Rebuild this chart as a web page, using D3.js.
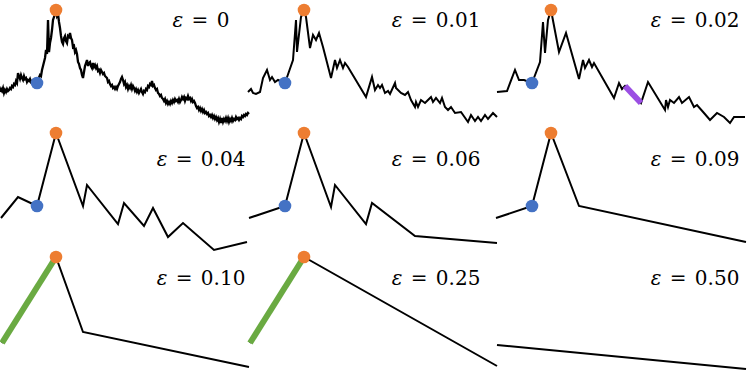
<!DOCTYPE html>
<html>
<head>
<meta charset="utf-8">
<script src="https://cdn.jsdelivr.net/npm/d3@7"></script>
<style>
  body { margin: 0; background: #fff; }
</style>
</head>
<body>
<div id="chart"></div>
<script>
// series: [t, value]
const eps0 = [
  [0,38],[1,41],[2,39],[3,42],[4,37],[5,40],[6,38],[7,41],[8,39],[9,40],[10,42],[11,41],[12,44],[13,43],[14,46],[15,45],
  [16,49],[17,47],[18,57],[19,54],[20,51],[21,55],[22,52],[23,50],[24,54],[25,51],[26,52],[27,48],[28,50],[29,49],[30,51],
  [31,48],[32,49],[33,47],[34,49],[35,47],[37,47],[38,50],[40,55],[41,54],[42,60],[43,64],[44,68],[45,72],[46,80],[47,76],
  [48,110],[48.6,92],[49,78],[50,87],[51,92],[52,100],[53,110],[54,113],[55,116],[56,120],[57,114],[58,116],[59,108],
  [60,102],[61,94],[62,88],[63,86],[64,92],[65,94],[66,89],[67,87],[68,94],[69,93],[70,97],[71,92],[72,90],[73,83],[74,84],
  [75,78],[76,80],[77,76],[78,68],[79,66],[80,62],[81,60],[82,55],[83,52],[84,58],[85,64],[86,67],[87,70],[88,64],[89,67],
  [90,68],[91,64],[92,62],[93,67],[94,63],[95,65],[96,62],[97,64],[98,59],[99,60],[100,57],[101,60],[102,58],[103,56],
  [104,57],[105,54],[106,53],[107,52],[108,48],[109,49],[110,46],[111,44],[112,45],[113,42],[114,43],[115,41],[116,43],
  [117,41],[118,44],[119,46],[120,48],[121,51],[122,53],[123,50],[124,46],[125,48],[126,43],[127,45],[128,41],[129,44],
  [130,42],[131,45],[132,41],[133,44],[134,42],[135,39],[136,41],[137,38],[138,40],[139,37],[140,39],[141,41],[142,38],
  [143,36],[144,39],[145,38],[146,41],[147,40],[148,44],[149,43],[150,46],[151,45],[152,49],[153,44],[154,45],[155,42],
  [156,40],[157,41],[158,37],[159,36],[160,34],[161,35],[162,32],[163,31],[164,29],[165,31],[166,27],[167,29],[168,26],
  [169,28],[170,26],[171,29],[172,27],[173,30],[174,28],[175,31],[176,29],[177,30],[178,28],[179,31],[180,28],[181,30],
  [182,33],[183,31],[184,33],[185,29],[186,32],[187,31],[188,34],[189,31],[190,32],[191,29],[192,31],[193,28],[194,29],
  [195,27],[196,24],[197,22],[198,23],[199,20],[200,22],[201,19],[202,21],[203,18],[204,20],[205,17],[206,18],[207,16],
  [208,17],[209,14],[210,15],[211,13],[212,15],[213,12],[214,14],[215,11],[216,13],[217,10],[218,12],[219,8],[220,11],
  [221,7],[222,12],[223,8],[224,11],[225,9],[226,12],[227,9],[228,12],[229,8],[230,11],[231,9],[232,12],[233,9],[234,11],
  [235,10],[236,13],[237,11],[238,12],[239,10],[240,12],[241,11],[242,14],[243,13],[244,15],[245,14],[246,16],[247,15],
  [248,17],[249,16]
];

const eps001 = [
  [0,38],[3,41],[5,37],[8,36],[12,38],[15,52],[19,60],[22,50],[24,53],[27,48],[30,50],[37,47],[45,70],[48,110],[49,78],
  [53,113],[56,120],[58,113],[62,82],[65,95],[68,90],[71,97],[75,83],[83,52],[87,70],[89,62],[92,70],[95,62],[97,67],
  [100,63],[118,33],[124,53],[127,40],[130,45],[132,42],[134,45],[137,37],[140,39],[142,36],[147,47],[148,42],[153,37],
  [157,35],[160,38],[163,30],[167,23],[168,28],[170,23],[173,30],[177,27],[180,30],[183,33],[185,28],[188,32],[192,27],
  [194,32],[197,23],[200,20],[203,23],[207,17],[213,18],[220,8],[223,15],[227,9],[230,13],[233,9],[237,15],[240,11],
  [245,17],[249,13]
];

const eps002 = [
  [2,38],[12,39],[20,60],[24,50],[29,50],[37,47],[45,68],[48,108],[50,77],[53,110],[56,120],[64,78],[71,97],[84,51],
  [88,70],[90,62],[94,70],[97,63],[99,67],[119,32],[124,47],[127,41],[130,44],[146,27],[153,48],[170,20],[171,30],
  [173,23],[175,30],[179,27],[184,33],[187,27],[194,33],[199,23],[202,25],[209,17],[215,10],[222,17],[229,13],[235,7],
  [239,13],[250,13]
];

const eps004 = [[1,35],[18,56],[37,47],[56,120],[83,47],[87,68],[118,29],[124,50],[144,27],[153,45],[168,16],[183,30],[214,3],[247,11]];
const eps006 = [[1,35],[37,47],[56,120],[83,46],[87,68],[118,29],[124,50],[167,17],[249,10]];
const eps009 = [[1,35],[37,47],[56,120],[84,47],[251,11]];
const eps010 = [[2,34],[56,120],[83,45],[249,10]];
const eps025 = [[2,34],[56,120],[249,11]];
const eps050 = [[2,32],[251,8]];

const epsLabels = ['0', '0.01', '0.02', '0.04', '0.06', '0.09', '0.10', '0.25', '0.50'];

const peakPoint = [56, 120];
const startPoint = [37, 47];
const purpleSeg = [[130, 44], [146, 27]];
const greenSeg = [[2, 34], [56, 120]];

const panels = [
  { pts: eps0,   blue: true,  orange: true },
  { pts: eps001, blue: true,  orange: true },
  { pts: eps002, blue: true,  orange: true, seg: purpleSeg, segColor: '#9b4fe3' },
  { pts: eps004, blue: true,  orange: true },
  { pts: eps006, blue: true,  orange: true },
  { pts: eps009, blue: true,  orange: true },
  { pts: eps010, blue: false, orange: true, seg: greenSeg, segColor: '#6aaa42' },
  { pts: eps025, blue: false, orange: true, seg: greenSeg, segColor: '#6aaa42' },
  { pts: eps050, blue: false, orange: false }
];

const W = 747, H = 372;
const colX = [0, 248, 495];
const rowY = [0, 123, 247];
const labelCx = [201, 436, 695];
const labelBase = [27, 166, 285];

const svg = d3.select('#chart').append('svg')
  .attr('width', W)
  .attr('height', H)
  .style('background', '#fff');

const x = d3.scaleLinear().domain([0, 250]).range([0, 250]);
const y = d3.scaleLinear().domain([0, 130]).range([130, 0]);

const line = d3.line()
  .x(d => x(d[0]))
  .y(d => y(d[1]));

panels.forEach((p, i) => {
  const col = i % 3, row = Math.floor(i / 3);
  const g = svg.append('g')
    .attr('transform', `translate(${colX[col]}, ${rowY[row]})`);

  g.append('path')
    .datum(p.pts)
    .attr('d', line)
    .attr('fill', 'none')
    .attr('stroke', '#000')
    .attr('stroke-width', i === 0 ? 2.3 : 2)
    .attr('stroke-linejoin', 'miter');

  if (p.seg) {
    g.append('path')
      .datum(p.seg)
      .attr('d', line)
      .attr('fill', 'none')
      .attr('stroke', p.segColor)
      .attr('stroke-width', 6);
  }

  if (p.blue) {
    g.append('circle')
      .attr('cx', x(startPoint[0]))
      .attr('cy', y(startPoint[1]))
      .attr('r', 6.3)
      .attr('fill', '#4472c4');
  }
  if (p.orange) {
    g.append('circle')
      .attr('cx', x(peakPoint[0]))
      .attr('cy', y(peakPoint[1]))
      .attr('r', 6.3)
      .attr('fill', '#ed7d31');
  }

  const t = svg.append('text')
    .attr('x', labelCx[col])
    .attr('y', labelBase[row])
    .attr('text-anchor', 'middle')
    .style('font-family', "'DejaVu Serif', serif")
    .style('font-size', '20px')
    .style('word-spacing', '2px')
    .attr('fill', '#000');
  t.append('tspan').style('font-style', 'italic').text('ε');
  t.append('tspan').text(' = ' + epsLabels[i]);
});
</script>
</body>
</html>
